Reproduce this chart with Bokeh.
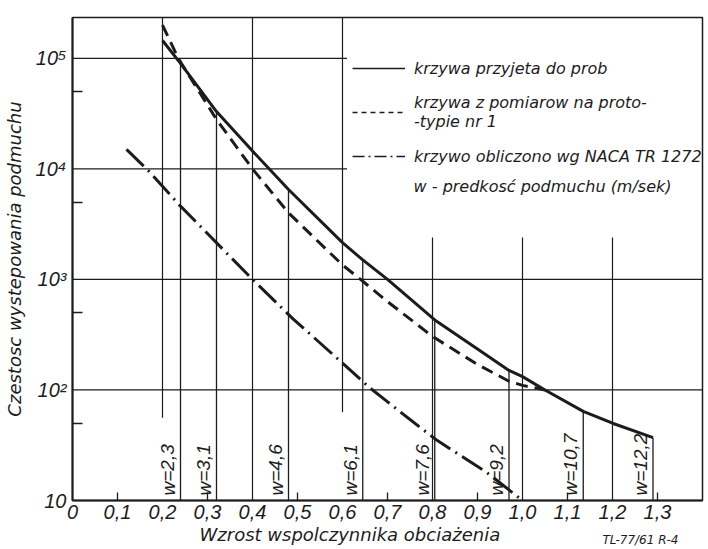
from bokeh.plotting import figure
from bokeh.models import Range1d, FixedTicker, Legend, LegendItem, Label, Title, ColumnDataSource
from bokeh.core.properties import value
from bokeh.embed import file_html
from bokeh.resources import INLINE

# --- curve data: load-factor increment vs. gust frequency ---
# curve adopted for the tests (solid)
solid_x = [0.20, 0.24, 0.32, 0.40, 0.48, 0.60, 0.645, 0.70, 0.805, 0.90, 0.97, 1.00, 1.05, 1.135, 1.20, 1.29]
solid_y = [1.45e5, 9.0e4, 3.3e4, 1.45e4, 6.5e3, 2.15e3, 1.5e3, 1.0e3, 430, 235, 150, 132, 100, 64, 50, 37]

# curve from measurements on prototype no. 1 (dashed)
proto_x = [0.20, 0.235, 0.32, 0.40, 0.48, 0.60, 0.64, 0.70, 0.80, 0.90, 0.97, 1.00, 1.05]
proto_y = [2.0e5, 1.0e5, 2.8e4, 1.0e4, 4.0e3, 1.35e3, 1.0e3, 630, 305, 170, 120, 110, 100]

# curve computed after NACA TR 1272 (dash-dot)
naca_x = [0.12, 0.17, 0.24, 0.40, 0.49, 0.60, 0.66, 0.75, 0.81, 0.92, 1.00]
naca_y = [1.5e4, 9.5e3, 4.6e3, 1.0e3, 440, 175, 105, 54, 35, 18, 10]

# gust velocity markers dropped from the adopted curve
gust_x = [0.24, 0.32, 0.48, 0.645, 0.805, 0.97, 1.135, 1.29]
gust_labels = ["w=2,3", "w=3,1", "w=4,6", "w=6,1", "w=7,6", "w=9,2", "w=10,7", "w=12,2"]

# axis ticks
x_ticks = [0.0, 0.1, 0.2, 0.3, 0.4, 0.5, 0.6, 0.7, 0.8, 0.9, 1.0, 1.1, 1.2, 1.3]
x_tick_labels = ["0", "0,1", "0,2", "0,3", "0,4", "0,5", "0,6", "0,7", "0,8", "0,9", "1,0", "1,1", "1,2", "1,3"]
y_ticks = [10, 100, 1000, 10000, 100000]
y_tick_labels = ["10", "10\u00b2", "10\u00b3", "10\u2074", "10\u2075"]

INK = "#1c1c1c"
TEXT_FONT = "DejaVu Sans"
TICK_FONT = "Liberation Sans"

p = figure(width=708, height=549, x_range=Range1d(0, 1.4), y_range=Range1d(10, 2.34e5),
           y_axis_type="log", output_backend="svg", toolbar_location=None,
           min_border_left=70, min_border_right=6, min_border_top=17, min_border_bottom=49)
p.grid.visible = False
p.outline_line_color = INK
p.outline_line_width = 1.5
p.background_fill_color = "white"
p.border_fill_color = "white"

# partial grid (interrupted around the legend and the velocity labels)
grid_h = [(0.0, 1.4, 100), (0.0, 1.4, 1000), (0.0, 0.61, 1e4), (0.0, 0.61, 1e5)]
grid_v = [(0.2, 56, 2.34e5), (0.4, 10, 2.34e5), (0.6, 63, 2.34e5),
          (0.8, 10, 2.4e3), (1.0, 10, 2.4e3), (1.2, 10, 2.4e3)]
p.segment(x0=[g[0] for g in grid_h], x1=[g[1] for g in grid_h],
          y0=[g[2] for g in grid_h], y1=[g[2] for g in grid_h], line_color=INK, line_width=1.2)
p.segment(x0=[g[0] for g in grid_v], x1=[g[0] for g in grid_v],
          y0=[g[1] for g in grid_v], y1=[g[2] for g in grid_v], line_color=INK, line_width=1.2)

# gust velocity verticals, topped on the adopted curve
gust_top = [solid_y[solid_x.index(x)] for x in gust_x]
p.segment(x0=gust_x, x1=gust_x, y0=[10] * len(gust_x), y1=gust_top, line_color=INK, line_width=1.3)
gsrc = ColumnDataSource(dict(x=gust_x, y=[10] * len(gust_x), t=gust_labels))
p.text(x="x", y="y", text="t", source=gsrc, angle=1.5708, x_offset=-2, y_offset=-5,
       text_align="left", text_baseline="bottom", text_font=value(TICK_FONT),
       text_font_style="italic", text_font_size="19px", text_color=INK)

# curves
p.line(solid_x, solid_y, line_color=INK, line_width=3)
p.line(proto_x, proto_y, line_color=INK, line_width=3, line_dash="12 7")
p.line(naca_x, naca_y, line_color=INK, line_width=3, line_dash="24 6 2 6")

# thin legend swatches (hidden in the plot area, shown only in the legend)
leg_solid = p.line(solid_x, solid_y, line_color=INK, line_width=1.5, visible=False)
leg_dash = p.line(proto_x, proto_y, line_color=INK, line_width=1.5, line_dash="5 4", visible=False)
leg_naca = p.line(naca_x, naca_y, line_color=INK, line_width=1.5, line_dash="12 4 2 4", visible=False)
legend = Legend(items=[
    LegendItem(label="krzywa przyjeta do prob", renderers=[leg_solid]),
    LegendItem(label="krzywa z pomiarow na proto-\n-typie nr 1", renderers=[leg_dash]),
    LegendItem(label="krzywo obliczono wg NACA TR 1272", renderers=[leg_naca]),
], location=(280, 334), border_line_color=None, background_fill_alpha=0, padding=0, margin=0,
   spacing=15, glyph_width=53, glyph_height=20, label_height=20, label_standoff=9,
   label_text_font=TEXT_FONT, label_text_font_style="italic", label_text_font_size="16px",
   label_text_color=INK)
p.add_layout(legend)
p.add_layout(Label(x=0.758, y=6.9e3, text="w - predkosć podmuchu (m/sek)", text_baseline="middle",
                   text_font=TEXT_FONT, text_font_style="italic", text_font_size="16px", text_color=INK))

# axes
for ax in (p.xaxis, p.yaxis):
    ax.axis_line_color = INK
    ax.axis_line_width = 2
    ax.major_tick_in = 0
    ax.major_tick_out = 0
    ax.minor_tick_out = 0
    ax.minor_tick_line_color = INK
    ax.minor_tick_line_width = 1.3
    ax.major_label_text_font = TICK_FONT
    ax.major_label_text_font_style = "italic"
    ax.major_label_text_font_size = "20px"
    ax.major_label_text_color = INK
p.xaxis.ticker = FixedTicker(ticks=x_ticks, minor_ticks=[0.1, 0.3, 0.5, 0.7, 0.9, 1.1, 1.3])
p.xaxis.major_label_overrides = dict(zip(x_ticks, x_tick_labels))
p.xaxis.minor_tick_in = 8
p.xaxis.major_label_standoff = 4
p.yaxis.ticker = FixedTicker(ticks=y_ticks, minor_ticks=[50, 500, 5000, 50000])
p.yaxis.major_label_overrides = dict(zip(y_ticks, y_tick_labels))
p.yaxis.minor_tick_in = 10
p.yaxis.major_label_standoff = 6
p.yaxis.axis_label = "Czestosc wystepowania podmuchu"
p.yaxis.axis_label_text_font = TEXT_FONT
p.yaxis.axis_label_text_font_style = "italic"
p.yaxis.axis_label_text_font_size = "18px"
p.yaxis.axis_label_text_color = INK
p.yaxis.axis_label_standoff = 8

# x title and drawing number share the bottom strip
p.add_layout(Title(text="Wzrost wspolczynnika obciażenia", align="left", offset=127, standoff=0,
                   text_font=TEXT_FONT, text_font_style="italic", text_font_size="18px",
                   text_color=INK), "below")
p.add_layout(Title(text="TL-77/61 R-4", align="right", offset=24, standoff=-24, vertical_align="top",
                   text_font=TEXT_FONT, text_font_style="italic", text_font_size="12px",
                   text_color=INK), "below")

open("out.html", "w").write(file_html(p, INLINE))
